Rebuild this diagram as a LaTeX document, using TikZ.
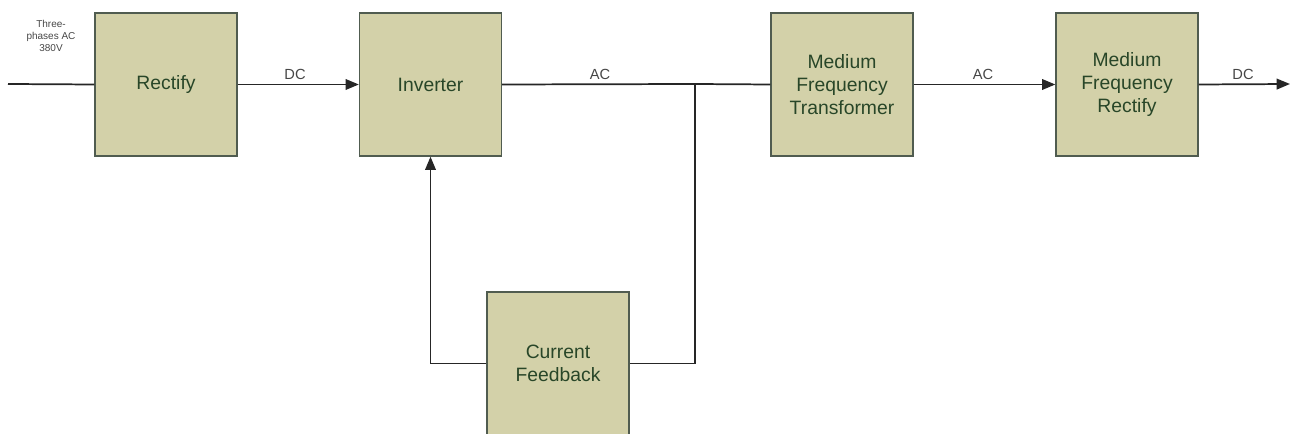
\documentclass[tikz,border=0pt]{standalone}
\usepackage{fontspec}
\setmainfont{Liberation Sans}
\usetikzlibrary{arrows.meta}

\definecolor{boxfill}{RGB}{211,209,169}
\definecolor{boxline}{RGB}{80,92,80}
\definecolor{boxtext}{RGB}{40,70,40}
\definecolor{labeltext}{RGB}{70,70,70}

\tikzset{every picture/.style={line width=0.75pt}}
\tikzset{
  block/.style={draw=boxline, fill=boxfill, line width=1pt, minimum width=106.5pt, minimum height=107.25pt,
    inner sep=2pt, align=center, text=boxtext, font=\fontsize{14.5}{17.5}\selectfont},
  wire/.style={draw=black!85, line width=1.3pt},
  flow/.style={wire, -{Triangle[length=10pt,width=8pt]}},
  signal/.style={text=labeltext, font=\fontsize{11}{13}\selectfont, inner sep=0.75pt},
}

\begin{document}
\begin{tikzpicture}[x=0.75pt,y=0.75pt,yscale=-1,xscale=1]
\useasboundingbox (0,0) rectangle (1296,434);
\clip (0,0) rectangle (1296,434);

% Blocks
\node [block] (rect) at (166,84.5) {Rectify};
\node [block] (inv) at (430.5,84.5) {Inverter};
\node [block] (mft) at (842,84.5) {Medium\\Frequency\\Transformer};
\node [block] (mfr) at (1127,84.5) {Medium\\Frequency\\Rectify};
\node [block] (cfb) at (558,363.5) {Current\\Feedback};

% Free ends and bends
\coordinate (in) at (8,84);
\coordinate (out) at (1290,84);
\coordinate (tap) at (695,84);
\coordinate (tapdown) at (695,363.5);
\coordinate (fbup) at (430.5,363.5);

% Connectors
\draw [wire] (in) -- (rect.west);
\draw [flow] (rect.east) -- (inv.west);
\draw [wire] (inv.east) -- (tap) -- (mft.west);
\draw [flow] (mft.east) -- (mfr.west);
\draw [flow] (mfr.east) -- (out);
\draw [wire] (tap) -- (tapdown) -- (cfb.east);
\draw [flow] (cfb.west) -- (fbup) -- (inv.south);

% Text Node
\node [signal, align=center, font=\fontsize{7.5}{9}\selectfont] (src) at (51,36) {Three-\\phases AC\\380V};
\node [signal] (dc1) at (295,74) {DC};
\node [signal] (ac1) at (600,74) {AC};
\node [signal] (ac2) at (983,74) {AC};
\node [signal] (dc2) at (1243,74) {DC};

\end{tikzpicture}
\end{document}
